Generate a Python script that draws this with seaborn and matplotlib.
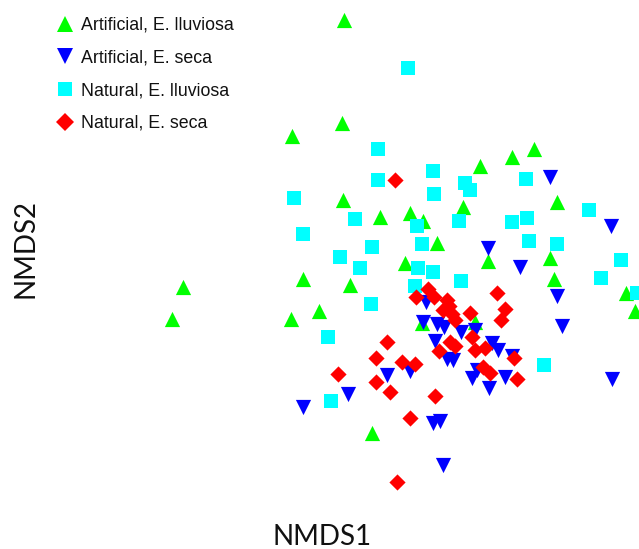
import matplotlib
matplotlib.use("Agg")
import matplotlib.pyplot as plt
from matplotlib.lines import Line2D
import seaborn as sns
import pandas as pd

# NMDS scores (arbitrary NMDS units)
groups = ["Artificial, E. lluviosa", "Artificial, E. seca",
          "Natural, E. lluviosa", "Natural, E. seca"]

art_lluv_x = [-0.56, -1.08, -0.58, -2.17, -2.28, 0.80, 1.12, 1.34, 0.63, 1.57,
              0.10, 0.23, 0.37, 0.05, 0.88, 1.50, 1.54, 2.26, 2.35, -0.57,
              -0.20, -0.97, -0.50, -0.81, -1.09, -0.28, 0.22, 0.75]
art_lluv_y = [2.80, 1.64, 1.77, 0.13, -0.19, 1.34, 1.43, 1.51, 0.93, 0.98,
              0.87, 0.79, 0.57, 0.37, 0.39, 0.42, 0.21, 0.07, -0.11, 1.00,
              0.83, 0.21, 0.15, -0.11, -0.19, -1.33, -0.23, -0.22]

art_seca_x = [1.50, 2.11, 0.88, 1.20, 1.57, 1.62, 2.12, 0.26, 0.23, 0.37,
              0.44, 0.61, 0.75, 0.35, 0.92, 0.98, 1.12, 0.47, 0.53, 0.10,
              0.77, 0.72, 1.05, 0.89, 0.33, 0.40, 0.43, -0.97, -0.52, -0.13]
art_seca_y = [1.23, 0.74, 0.52, 0.33, 0.04, -0.26, -0.79, -0.02, -0.22, -0.24,
              -0.27, -0.32, -0.30, -0.41, -0.43, -0.50, -0.56, -0.59, -0.60, -0.71,
              -0.70, -0.78, -0.77, -0.88, -1.23, -1.21, -1.65, -1.07, -0.94, -0.75]

nat_lluv_x = [0.08, -0.22, -0.22, -1.06, 0.33, 0.34, 0.65, 0.70, -0.45, -0.97,
              0.17, 0.59, 0.22, 1.26, 1.12, 1.27, 1.29, 1.57, 1.89, 2.21,
              2.01, 2.37, -0.28, -0.60, -0.40, 0.18, 0.33, 0.15, 0.61, -0.29,
              -0.72, -0.69, 1.44]
nat_lluv_y = [2.32, 1.51, 1.20, 1.02, 1.29, 1.06, 1.17, 1.10, 0.81, 0.66,
              0.74, 0.79, 0.56, 1.21, 0.78, 0.82, 0.59, 0.56, 0.90, 0.40,
              0.22, 0.07, 0.53, 0.43, 0.32, 0.32, 0.28, 0.14, 0.19, -0.04,
              -0.37, -1.01, -0.65]

nat_seca_x = [-0.05, 0.16, 0.28, 0.34, 0.47, 0.49, 0.43, 0.52, 0.55, 0.70,
              0.97, 1.05, 1.01, 0.72, 0.50, 0.55, 0.39, 0.75, 0.85, 1.14,
              0.83, 0.90, 1.17, 0.02, 0.15, 0.35, 0.10, -0.03, -0.13, -0.24,
              -0.62, -0.24, -0.10]
nat_seca_y = [1.20, 0.03, 0.11, 0.03, 0.00, -0.06, -0.10, -0.14, -0.20, -0.13,
              0.07, -0.09, -0.20, -0.37, -0.42, -0.46, -0.51, -0.50, -0.48, -0.58,
              -0.67, -0.73, -0.79, -0.62, -0.64, -0.96, -1.18, -1.82, -0.42, -0.58,
              -0.74, -0.82, -0.92]

colors = {groups[0]: "#00FF00", groups[1]: "#0000FF",
          groups[2]: "#00FFFF", groups[3]: "#FF0000"}
markers = {groups[0]: "^", groups[1]: "v", groups[2]: "s", groups[3]: "D"}
sizes = {groups[0]: 120, groups[1]: 120, groups[2]: 95, groups[3]: 68}

frames = []
for g, xs, ys in zip(groups,
                     [art_lluv_x, art_seca_x, nat_lluv_x, nat_seca_x],
                     [art_lluv_y, art_seca_y, nat_lluv_y, nat_seca_y]):
    frames.append(pd.DataFrame({"NMDS1": xs, "NMDS2": ys, "group": g}))
df = pd.concat(frames, ignore_index=True)

sns.set_style("white")
plt.rcParams["font.family"] = ["Liberation Sans", "DejaVu Sans"]

W, H = 639, 549
fig = plt.figure(figsize=(W / 100, H / 100), dpi=100)
ax = fig.add_axes([60 / W, 49 / H, 579 / W, 500 / H])

for g in groups:
    sub = df[df["group"] == g]
    sns.scatterplot(data=sub, x="NMDS1", y="NMDS2", color=colors[g],
                    marker=markers[g], s=sizes[g], linewidth=0, ax=ax,
                    legend=False, zorder=3)

ax.set_xlim(-3.40, 2.39)
ax.set_ylim(-2.00, 3.00)
ax.set_xticks([])
ax.set_yticks([])
for sp in ax.spines.values():
    sp.set_visible(False)

ax.set_xlabel("NMDS1", fontsize=20, family="Lato", color="#111111")
ax.set_ylabel("NMDS2", fontsize=20, family="Lato", color="#111111")
ax.xaxis.set_label_coords((322 - 60) / 579, -0.048)
ax.yaxis.set_label_coords((39 - 60) / 579, (500 - 248) / 500)

handles = [Line2D([0], [0], marker=markers[g], color="none",
                  markerfacecolor=colors[g], markeredgewidth=0,
                  markersize=(sizes[g] ** 0.5) * 1.05)
           for g in groups]
leg = ax.legend(handles, groups, loc="upper left",
                bbox_to_anchor=(46 / W, 1 - 8 / H), bbox_transform=fig.transFigure,
                frameon=False, fontsize=12.8, handletextpad=0.35,
                labelspacing=0.88, handlelength=1.1, borderpad=0)
for t in leg.get_texts():
    t.set_color("#111111")

fig.savefig("out.png", dpi=100)
